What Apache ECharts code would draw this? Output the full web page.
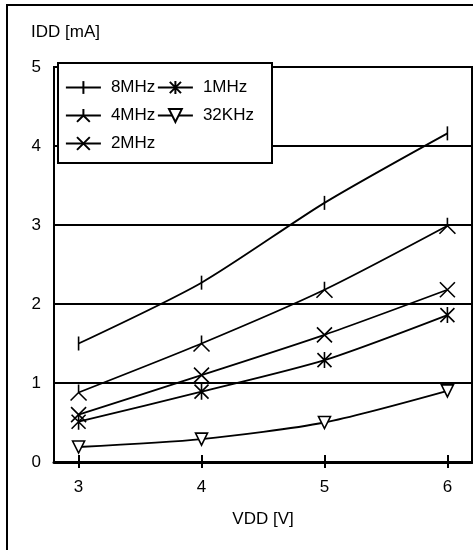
<!DOCTYPE html>
<html>
<head>
<meta charset="utf-8">
<script src="https://cdn.jsdelivr.net/npm/echarts@6/dist/echarts.min.js"></script>
<style>
html,body{margin:0;padding:0;background:#fff;}
#chart{width:473px;height:550px;}
</style>
</head>
<body>
<div id="chart"></div>
<script>
const vdd = [3, 4, 5, 6];
const xTickLabels = [3, 4, 5, 6];
const seriesNames = ['8MHz', '4MHz', '2MHz', '1MHz', '32KHz'];
const idd8MHz = [1.5, 2.27, 3.28, 4.16];
const idd4MHz = [0.88, 1.5, 2.18, 2.99];
const idd2MHz = [0.6, 1.1, 1.61, 2.18];
const idd1MHz = [0.51, 0.89, 1.29, 1.86];
const idd32KHz = [0.19, 0.29, 0.5, 0.9];
const yMin = 0, yMax = 5, yStep = 1;

const FONT = 'Liberation Sans, Arial, sans-serif';
const symbols = {
  '8MHz': 'path://M0,-7L0,7M-7,0L-7,0M7,0L7,0',
  '4MHz': 'path://M0,-7L0,0M-7,7L0,0M7,7L0,0',
  '2MHz': 'path://M-7,-7L7,7M-7,7L7,-7',
  '1MHz': 'path://M-7,-7L7,7M-7,7L7,-7M0,-8L0,8M-8,0L-8,0M8,0L8,0',
  '32KHz': 'path://M-6,-5L6,-5L0,6Z'
};
const sizes = {'8MHz': 14, '4MHz': 16, '2MHz': 15, '1MHz': 16, '32KHz': 12};
const values = {'8MHz': idd8MHz, '4MHz': idd4MHz, '2MHz': idd2MHz, '1MHz': idd1MHz, '32KHz': idd32KHz};

const series = seriesNames.map(function (name) {
  return {
    name: name,
    type: 'line',
    xAxisIndex: 0,
    yAxisIndex: 0,
    smooth: 0.25,
    data: vdd.map(function (x, i) { return [x, values[name][i]]; }),
    symbol: symbols[name],
    symbolSize: sizes[name],
    lineStyle: {color: '#000', width: 1.8},
    itemStyle: {color: name === '32KHz' ? '#fff' : '#000', borderColor: '#000', borderWidth: 1.6},
    emphasis: {disabled: true},
    z: 2
  };
});

const legendBase = {
  orient: 'vertical',
  top: 79,
  padding: 0,
  itemGap: 11,
  itemWidth: 35,
  itemHeight: 16,
  selectedMode: false,
  z: 6,
  lineStyle: {color: '#000', width: 1.8},
  textStyle: {fontFamily: FONT, fontSize: 17, color: '#000', lineHeight: 17, padding: [0, 0, 0, 5]}
};

const chart = echarts.init(document.getElementById('chart'), null, {renderer: 'canvas'});
chart.setOption({
  animation: false,
  backgroundColor: '#fff',
  textStyle: {fontFamily: FONT},
  grid: {left: 54, top: 67, right: 1, bottom: 88, show: true, borderColor: '#000', borderWidth: 2, backgroundColor: 'transparent'},
  legend: [
    Object.assign({}, legendBase, {left: 65, data: seriesNames.slice(0, 3)}),
    Object.assign({}, legendBase, {left: 157, data: seriesNames.slice(3)})
  ],
  xAxis: [{
    type: 'value',
    min: 2.8,
    max: 6.2,
    name: 'VDD [V]',
    nameLocation: 'middle',
    nameGap: 49,
    nameTextStyle: {fontFamily: FONT, fontSize: 17, color: '#000'},
    axisLine: {show: true, onZero: false, lineStyle: {color: '#000', width: 3}},
    axisTick: {show: true, length: 6, customValues: xTickLabels, lineStyle: {color: '#000', width: 2}},
    axisLabel: {customValues: xTickLabels, margin: 17, fontFamily: FONT, fontSize: 17, color: '#000'},
    splitLine: {show: false}
  }, {
    type: 'value',
    min: 2.8,
    max: 6.2,
    position: 'bottom',
    axisLine: {show: false},
    axisTick: {show: true, inside: true, length: 7, customValues: xTickLabels, lineStyle: {color: '#000', width: 2}},
    axisLabel: {show: false},
    splitLine: {show: false}
  }],
  yAxis: {
    type: 'value',
    min: yMin,
    max: yMax,
    interval: yStep,
    name: 'IDD [mA]',
    nameLocation: 'end',
    nameGap: 26,
    nameTextStyle: {fontFamily: FONT, fontSize: 17, color: '#000', padding: [0, 0, 0, 23]},
    axisLine: {show: true, lineStyle: {color: '#000', width: 2}},
    axisTick: {show: false},
    axisLabel: {margin: 13, fontFamily: FONT, fontSize: 17, color: '#000'},
    splitLine: {show: true, lineStyle: {color: '#000', width: 2}}
  },
  graphic: [
    {type: 'rect', silent: true, z: 3, shape: {x: 7, y: 5, width: 520, height: 600}, style: {fill: 'none', stroke: '#000', lineWidth: 2}},
    {type: 'rect', silent: true, z: 5, shape: {x: 58, y: 63, width: 214, height: 100}, style: {fill: '#fff', stroke: '#000', lineWidth: 2}}
  ],
  series: series
});
</script>
</body>
</html>
